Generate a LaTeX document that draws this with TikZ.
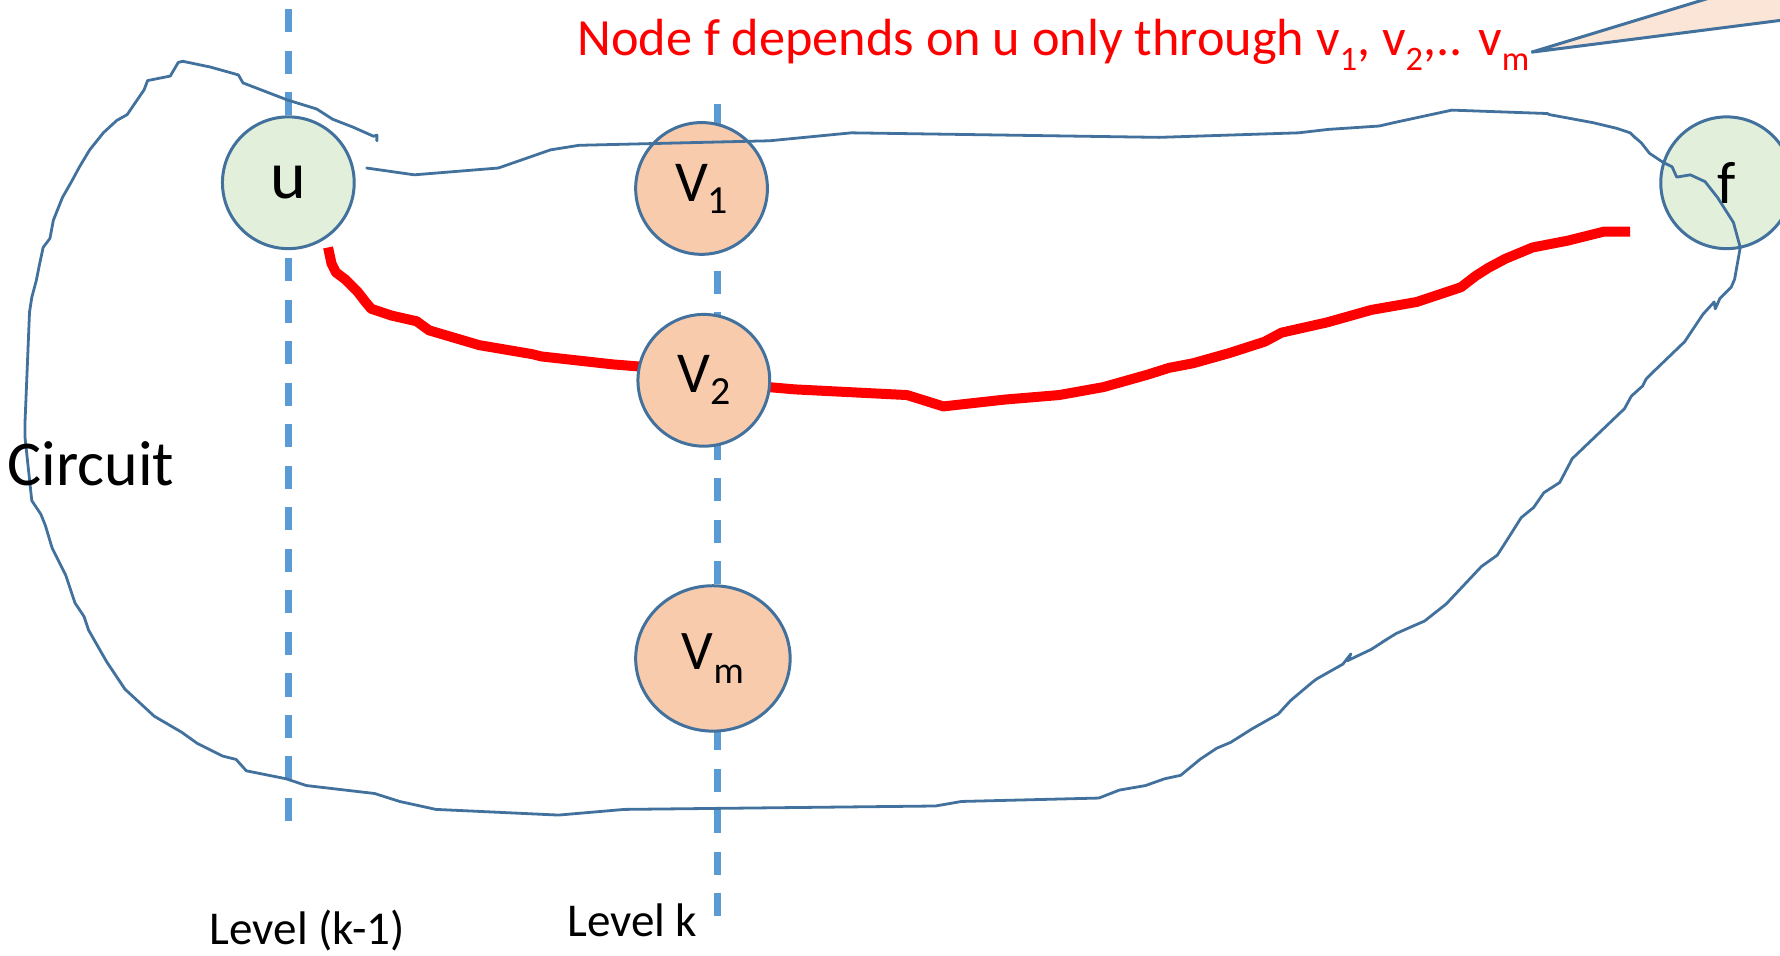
\documentclass[tikz,border=0pt]{standalone}
\usepackage{fontspec}
\setmainfont{Carlito}
\usetikzlibrary{shapes.geometric}
\definecolor{outl}{HTML}{41719C}
\definecolor{lvl}{HTML}{5B9BD5}
\definecolor{gfill}{HTML}{E2EFDA}
\definecolor{pfill}{HTML}{F8CBAD}
\definecolor{cfill}{HTML}{FBE5D6}
\definecolor{redc}{HTML}{FF0000}
\newcommand\lowsub[3]{\raisebox{-#3}{\fontsize{#2}{#2}\selectfont #1}}
\begin{document}
\begin{tikzpicture}[x=0.01cm,y=-0.01cm,
  gnode/.style={circle, draw=outl, fill=gfill, line width=0.75pt, minimum size=1.16cm, inner sep=0pt},
  pnode/.style={circle, draw=outl, fill=pfill, line width=0.75pt, minimum size=1.16cm, inner sep=0pt},
  pell/.style={ellipse, draw=outl, fill=pfill, line width=0.75pt, minimum width=1.36cm, minimum height=1.28cm, inner sep=0pt},
  levelline/.style={draw=lvl, line width=1.6pt, dash pattern=on 5.8pt off 4.6pt},
  outline/.style={draw=outl, line width=0.7pt, line join=round, line cap=round},
  redpath/.style={draw=redc, line width=2.5pt, line join=round},
  lbl/.style={inner sep=0pt, font=\fontsize{11.8pt}{14pt}\selectfont}
]
\useasboundingbox (0,0) rectangle (1568,842);
\clip (0,0) rectangle (1568,842);

% level lines
\coordinate (lk1top) at (254,8);
\coordinate (lk1bot) at (254,727);
\coordinate (lktop) at (632,92);
\coordinate (lkbot) at (632,812);
\draw[levelline] (lk1top) -- (lk1bot);
\draw[levelline] (lktop) -- (lkbot);

% red path
\draw[redpath] (289,218) -- (292,232) -- (296,240) -- (304,246) -- (315,257) -- (322,266) -- (327,272) -- (345,278) -- (367,283) -- (378,291) -- (422,304) -- (469,312) -- (477,314) -- (540,321) -- (565,323) -- (640,330)
  -- (677,341) -- (700,343) -- (799,348) -- (831,358) -- (885,352) -- (933,348) -- (972,341) -- (1011,330) -- (1030,324) -- (1051,320) -- (1083,311) -- (1114,301) -- (1129,293) -- (1169,284) -- (1208,273) -- (1248,266) -- (1287,253) -- (1300,243) -- (1311,236) -- (1326,228) -- (1350,218) -- (1381,212) -- (1413,204) -- (1436,204);

% nodes
\node[gnode] (u) at (254,161) {\fontsize{17pt}{17pt}\selectfont u};
\node[pnode] (v1) at (618,166) {\fontsize{14.5pt}{14.5pt}\selectfont V\lowsub{1}{10pt}{3pt}};
\node[pnode] (v2) at (620,335) {\fontsize{14.5pt}{14.5pt}\selectfont V\lowsub{2}{10pt}{3pt}};
\node[pell] (vm) at (628,580) {\fontsize{14pt}{14pt}\selectfont V\lowsub{m}{9.5pt}{3.5pt}};
\node[gnode] (f) at (1521,161) {\fontsize{15pt}{15pt}\selectfont f};

% circuit outline
\draw[outline] (323,148) -- (365,154) -- (439,148) -- (485,132) -- (510,128) -- (678,124) -- (750,117) -- (1021,121) -- (1144,117) -- (1170,114) -- (1215,111) -- (1228,108) -- (1279,97) -- (1363,100) -- (1365,101) -- (1403,108) -- (1424,113) -- (1436,117) -- (1441,122) -- (1438,119) -- (1446,126) -- (1453,135) -- (1465,143) -- (1473,147) -- (1477,156) -- (1489,154) -- (1502,160) -- (1513,174) -- (1527,196) -- (1533,218) -- (1528,246) -- (1525,253) -- (1515,263) -- (1511,272) -- (1510,266) -- (1500,277) -- (1484,301) -- (1458,326) -- (1450,334) -- (1447,340) -- (1437,349) -- (1431,360) -- (1385,404) -- (1374,425) -- (1360,434) -- (1351,447) -- (1340,456) -- (1328,475) -- (1319,489) -- (1305,499) -- (1274,532) -- (1255,547) -- (1230,558) -- (1217,566) -- (1222,563) -- (1208,572) -- (1187,582) -- (1190,576) -- (1183,585) -- (1160,598) -- (1156,601) -- (1137,617) -- (1126,629) -- (1103,642) -- (1084,654) -- (1072,659) -- (1057,669) -- (1040,683) -- (1026,686) -- (1009,692) -- (986,696) -- (968,703) -- (847,706) -- (824,710) -- (550,713) -- (492,718) -- (384,713) -- (352,706) -- (330,699) -- (270,692) -- (252,686) -- (217,679) -- (208,669) -- (196,666) -- (186,661) -- (174,655) -- (160,645) -- (136,631) -- (110,607) -- (94,583) -- (78,555) -- (74,543) -- (66,531) -- (58,507) -- (46,483) -- (40,463) -- (36,453) -- (28,441) -- (22,385) -- (22,373) -- (26,275) -- (28,262) -- (32,247) -- (35,232) -- (38,218) -- (44,210) -- (47,194) -- (55,174) -- (63,160) -- (70,147) -- (79,132) -- (91,117) -- (103,106) -- (112,101) -- (127,79) -- (130,71) -- (150,67) -- (157,55) -- (161,54) -- (185,59) -- (203,64) -- (210,66) -- (214,73) -- (253,88) -- (279,96) -- (293,105) -- (311,112) -- (329,120) -- (332,119) -- (332,124);

% callout wedge
\coordinate (tip) at (1349,46);
\filldraw[fill=cfill, draw=outl, line width=0.75pt, line join=miter] (1651,-46) -- (tip) -- (1787,-10);

% texts
\node[anchor=base west, inner sep=0pt, text=redc, font=\fontsize{13.1pt}{16pt}\selectfont] (title) at (508,49)
  {Node f depends on u only through v\lowsub{1}{8.6pt}{3.6pt}, v\lowsub{2}{8.6pt}{3.6pt},.. v\lowsub{m}{8.6pt}{3.6pt}};
\node[anchor=base west, inner sep=0pt, font=\fontsize{16pt}{19pt}\selectfont] (circuit) at (6,428) {Circuit};
\node[lbl, anchor=base west] (lvlk1) at (184,832) {Level (k-1)};
\node[lbl, anchor=base west] (lvlk) at (499,825) {Level k};
\end{tikzpicture}
\end{document}
